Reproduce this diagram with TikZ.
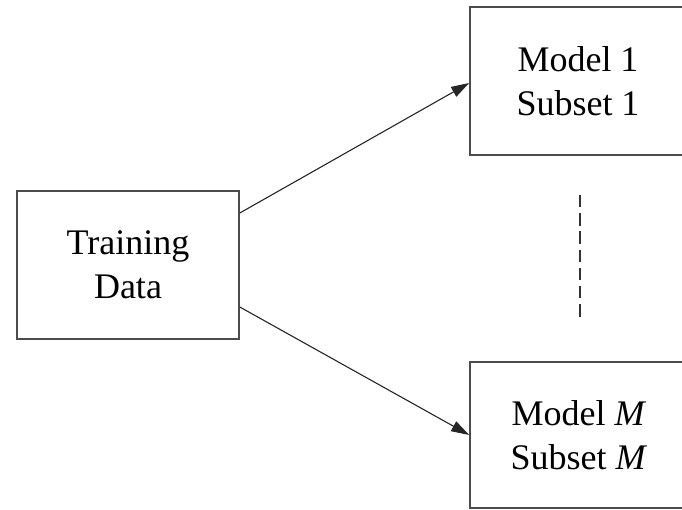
\documentclass[tikz,border=0pt]{standalone}
\usepackage{fontspec}
\setmainfont{Liberation Serif}
\usetikzlibrary{arrows.meta}
\begin{document}
\begin{tikzpicture}[x=1pt,y=1pt,
  box/.style={draw=black!70,line width=1.6pt,fill=white,inner sep=0pt,align=center,
    font=\fontsize{36}{44}\selectfont},
  conn/.style={draw=black!85,line width=1.1pt,-{Triangle[length=18pt,width=11pt]}},
  dots/.style={draw=black!80,line width=1.8pt,dash pattern=on 12.5pt off 5.7pt}]
\clip (0,0) rectangle (682,509);
\fill[white] (0,0) rectangle (682,509);
\node[box,minimum width=222pt,minimum height=148pt] (td) at (128,244) {Training\\Data};
\node[box,minimum width=216pt,minimum height=148pt] (m1) at (578,428) {Model 1\\Subset 1};
\node[box,minimum width=218pt,minimum height=146pt] (mm) at (579,74) {Model \textit{M}\\Subset \textit{M}};
\draw[conn] ([yshift=52pt]td.east) -- ([yshift=-2pt]m1.west);
\draw[conn] ([yshift=-42pt]td.east) -- (mm.west);
\coordinate (d1) at (580,314);
\coordinate (d2) at (580,192);
\draw[dots] (d1) -- (d2);
\end{tikzpicture}
\end{document}
